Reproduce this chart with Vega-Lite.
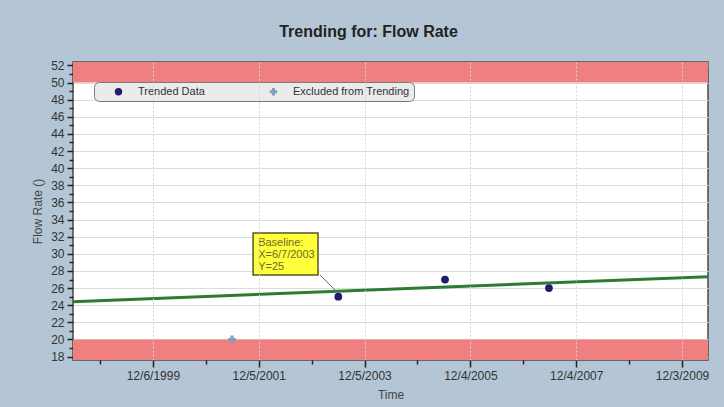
{
  "$schema": "https://vega.github.io/schema/vega-lite/v6.json",
  "width": 635,
  "height": 298,
  "autosize": {"type": "none"},
  "padding": {"left": 73, "top": 62, "right": 16, "bottom": 47},
  "background": "#b4c6d6",
  "title": {
    "text": "Trending for: Flow Rate",
    "font": "Liberation Sans",
    "fontSize": 16,
    "fontWeight": "bold",
    "color": "#222222",
    "anchor": "middle",
    "dx": -22,
    "offset": 19
  },
  "config": {
    "font": "Liberation Sans",
    "view": {"fill": "#ffffff", "stroke": "#4a4a4a", "strokeWidth": 1.5},
    "axis": {
      "labelFont": "Liberation Sans",
      "labelFontSize": 12,
      "labelColor": "#333333",
      "titleFont": "Liberation Sans",
      "titleFontSize": 12,
      "titleFontWeight": "normal",
      "titleColor": "#444444",
      "tickColor": "#222222",
      "tickWidth": 1.5,
      "domain": false
    }
  },
  "datasets": {
    "bands": [
      {"t": "1998/06/03", "t2": "2010/05/31", "v": 50, "v2": 52.4},
      {"t": "1998/06/03", "t2": "2010/05/31", "v": 17.6, "v2": 20}
    ],
    "trend": [
      {"t": "1998/06/03", "v": 24.4},
      {"t": "2010/05/31", "v": 27.33}
    ],
    "points": [
      {"t": "2001/06/04", "v": 20, "series": "Excluded from Trending"},
      {"t": "2003/06/07", "v": 25, "series": "Trended Data"},
      {"t": "2005/06/12", "v": 27, "series": "Trended Data"},
      {"t": "2007/05/30", "v": 26, "series": "Trended Data"}
    ],
    "callout": [
      {"t": "2001/10/27", "t2": "2003/01/18", "v": 27.53, "v2": 32.43}
    ],
    "leader": [
      {"t": "2003/02/01", "t2": "2003/05/29", "v": 27.53, "v2": 25.54}
    ],
    "callouttext": [
      {"t": "2001/12/01", "v": 31.26, "label": "Baseline:"},
      {"t": "2001/12/01", "v": 29.86, "label": "X=6/7/2003"},
      {"t": "2001/12/01", "v": 28.46, "label": "Y=25"}
    ]
  },
  "encoding": {
    "x": {
      "field": "t",
      "type": "temporal",
      "scale": {"domain": [{"year": 1998, "month": 6, "date": 3}, {"year": 2010, "month": 5, "date": 31}], "nice": false},
      "axis": {
        "title": "Time",
        "values": [
          {"year": 1998, "month": 12, "date": 6},
          {"year": 1999, "month": 12, "date": 6},
          {"year": 2000, "month": 12, "date": 5},
          {"year": 2001, "month": 12, "date": 5},
          {"year": 2002, "month": 12, "date": 5},
          {"year": 2003, "month": 12, "date": 5},
          {"year": 2004, "month": 12, "date": 4},
          {"year": 2005, "month": 12, "date": 4},
          {"year": 2006, "month": 12, "date": 4},
          {"year": 2007, "month": 12, "date": 4},
          {"year": 2008, "month": 12, "date": 3},
          {"year": 2009, "month": 12, "date": 3}
        ],
        "labelExpr": "year(datum.value) % 2 == 1 ? timeFormat(datum.value, '%-m/%-d/%Y') : ''",
        "tickSize": {"condition": {"test": "year(datum.value) % 2 == 1", "value": 7}, "value": 4},
        "grid": true,
        "gridColor": "#d4d4d4",
        "gridDash": [2, 2],
        "gridOpacity": {"condition": {"test": "year(datum.value) % 2 == 1", "value": 1}, "value": 0},
        "labelFlush": false,
        "labelOverlap": false,
        "labelPadding": 3,
        "titlePadding": 8,
        "zindex": 1
      }
    },
    "y": {
      "field": "v",
      "type": "quantitative",
      "scale": {"domain": [17.6, 52.4], "nice": false, "zero": false},
      "axis": {
        "title": "Flow Rate ()",
        "values": [18, 19, 20, 21, 22, 23, 24, 25, 26, 27, 28, 29, 30, 31, 32, 33, 34, 35, 36, 37, 38, 39, 40, 41, 42, 43, 44, 45, 46, 47, 48, 49, 50, 51, 52],
        "labelExpr": "datum.value % 2 == 0 ? format(datum.value, 'd') : ''",
        "tickSize": {"condition": {"test": "datum.value % 2 == 0", "value": 6}, "value": 4},
        "grid": true,
        "gridColor": "#dcdcdc",
        "gridOpacity": {"condition": {"test": "datum.value % 2 == 0", "value": 1}, "value": 0},
        "labelPadding": 3,
        "titlePadding": 6
      }
    }
  },
  "layer": [
    {
      "data": {"name": "bands"},
      "mark": {"type": "rect", "color": "#f08080"},
      "encoding": {"x2": {"field": "t2"}, "y2": {"field": "v2"}}
    },
    {
      "data": {"name": "trend"},
      "mark": {"type": "line", "color": "#2e7a30", "strokeWidth": 3},
      "encoding": {}
    },
    {
      "data": {"name": "leader"},
      "mark": {"type": "rule", "color": "#6a6a6a", "strokeWidth": 1},
      "encoding": {"x2": {"field": "t2"}, "y2": {"field": "v2"}}
    },
    {
      "data": {"name": "points"},
      "mark": {"type": "point", "filled": true, "opacity": 1},
      "encoding": {
        "color": {
          "field": "series",
          "type": "nominal",
          "scale": {"domain": ["Trended Data", "Excluded from Trending"], "range": ["#1f1b6e", "#7f9dc0"]},
          "legend": {
            "title": null,
            "orient": "none",
            "legendX": 21,
            "legendY": 20,
            "direction": "horizontal",
            "fillColor": "#ebebeb",
            "strokeColor": "#7a7a7a",
            "cornerRadius": 5,
            "padding": 4,
            "symbolOffset": 15,
            "columnPadding": 48,
            "labelOffset": 14,
            "labelFont": "Liberation Sans",
            "labelFontSize": 11,
            "labelColor": "#333333",
            "symbolSize": 55
          }
        },
        "shape": {
          "field": "series",
          "type": "nominal",
          "scale": {"domain": ["Trended Data", "Excluded from Trending"], "range": ["circle", "cross"]}
        },
        "size": {"value": 60}
      }
    },
    {
      "data": {"name": "callout"},
      "mark": {"type": "rect", "fill": "#ffff3c", "stroke": "#55552a", "strokeWidth": 1.5},
      "encoding": {"x2": {"field": "t2"}, "y2": {"field": "v2"}}
    },
    {
      "data": {"name": "callouttext"},
      "mark": {"type": "text", "align": "left", "baseline": "middle", "fontSize": 11, "font": "Liberation Sans", "color": "#6b6b20"},
      "encoding": {"text": {"field": "label", "type": "nominal"}}
    }
  ]
}
